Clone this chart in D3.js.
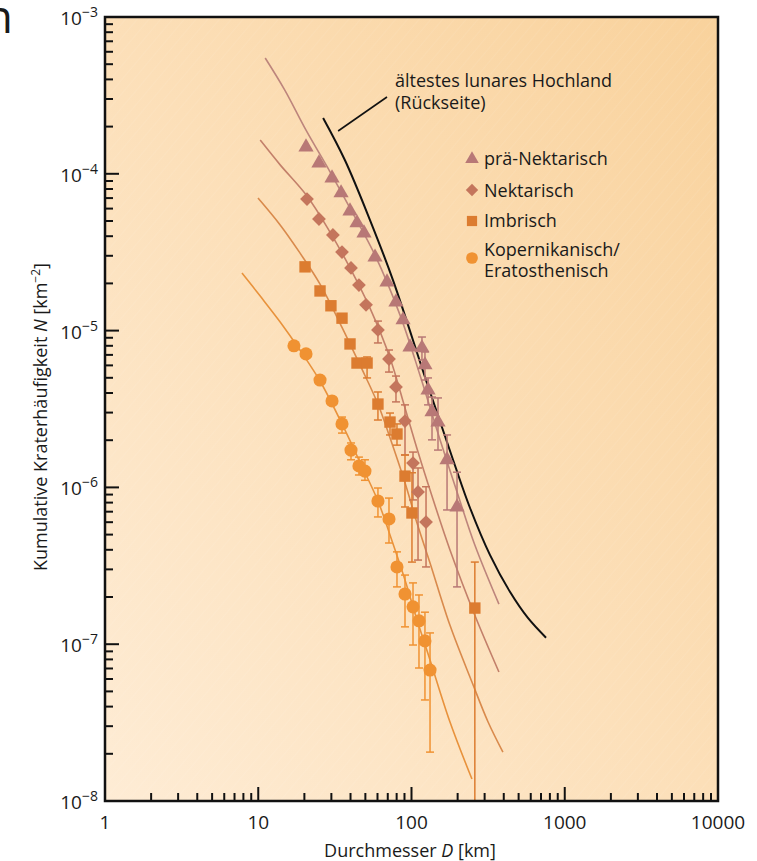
<!DOCTYPE html>
<html>
<head>
<meta charset="utf-8">
<script src="https://cdn.jsdelivr.net/npm/d3@7"></script>
<style>
  body { margin: 0; background: #fff; }
  svg { display: block; }
  text { font-family: "Open Sans", "DejaVu Sans", sans-serif; fill: #1a1a1a; }
</style>
</head>
<body>
<svg id="chart" width="757" height="861"></svg>
<script>
// prä-Nektarisch (triangles)
var D_preN  = [20.5, 24.9, 30.3, 34.7, 39.7, 44.1, 49.0, 57.8, 69.2, 79.2, 88.1, 97.8, 117, 122.4, 128.2, 136.1, 148.9, 170.6, 198.2];
var N_preN  = [1.48e-4, 1.17e-4, 9.4e-5, 7.55e-5, 5.79e-5, 4.86e-5, 4.19e-5, 2.94e-5, 2.04e-5, 1.52e-5, 1.17e-5, 7.86e-6, 7.75e-6, 6.04e-6, 4.18e-6, 3.03e-6, 2.61e-6, 1.50e-6, 7.5e-7];
var hi_preN = [null, null, null, null, null, null, null, null, null, null, null, null, 9.1e-6, 7.31e-6, 4.99e-6, 3.77e-6, 3.72e-6, 2.16e-6, 1.25e-6];
var lo_preN = [null, null, null, null, null, null, null, null, null, null, null, null, 6.49e-6, 4.84e-6, 3.36e-6, 2.01e-6, 1.73e-6, 7.18e-7, 2.32e-7];

// Nektarisch (diamonds)
var D_nek  = [20.8, 24.9, 30.7, 35.2, 40.3, 45.4, 50.5, 60.4, 71.3, 79.2, 90.7, 102.3, 110.3, 124.4];
var N_nek  = [6.9e-5, 5.15e-5, 4.07e-5, 3.17e-5, 2.51e-5, 1.95e-5, 1.46e-5, 1.01e-5, 6.59e-6, 4.37e-6, 2.65e-6, 1.43e-6, 9.35e-7, 6.01e-7];
var hi_nek = [null, null, null, null, null, null, null, 1.15e-5, 7.52e-6, 5.13e-6, 3.36e-6, 1.68e-6, 1.33e-6, 1.01e-6];
var lo_nek = [null, null, null, null, null, null, null, 8.34e-6, 5.44e-6, 3.51e-6, 1.61e-6, 8.32e-7, 3.44e-7, 3.11e-7];

// Imbrisch (squares)
var D_imb  = [20.2, 25.3, 29.8, 35.2, 39.7, 44.1, 51.3, 60.4, 72.4, 80.4, 90.7, 100.7, 259];
var N_imb  = [2.55e-5, 1.79e-5, 1.44e-5, 1.2e-5, 8.22e-6, 6.21e-6, 6.21e-6, 3.4e-6, 2.61e-6, 2.19e-6, 1.18e-6, 6.87e-7, 1.7e-7];
var hi_imb = [null, null, null, null, null, null, 6.79e-6, 4.06e-6, 2.98e-6, 2.54e-6, 1.61e-6, 1.24e-6, 3.34e-7];
var lo_imb = [null, null, null, null, null, null, 4.99e-6, 2.69e-6, 2.16e-6, 1.86e-6, 7.5e-7, 3.34e-7, 1e-8];

// Kopernikanisch / Eratosthenisch (circles)
var D_kop  = [17.1, 20.5, 25.3, 30.3, 35.2, 40.3, 45.4, 49.7, 60.4, 71.3, 80.4, 90.7, 102.3, 111.9, 122.4, 132.1];
var N_kop  = [8.0e-6, 7.1e-6, 4.84e-6, 3.56e-6, 2.54e-6, 1.73e-6, 1.37e-6, 1.27e-6, 8.19e-7, 6.29e-7, 3.11e-7, 2.09e-7, 1.73e-7, 1.41e-7, 1.05e-7, 6.84e-8];
var hi_kop = [null, null, null, null, 2.81e-6, 1.92e-6, 1.56e-6, 1.5e-6, 9.91e-7, 8.55e-7, 3.88e-7, 2.76e-7, 2.46e-7, 2.06e-7, 1.6e-7, 1.18e-7];
var lo_kop = [null, null, null, null, 2.22e-6, 1.5e-6, 1.2e-6, 1.11e-6, 6.48e-7, 4.42e-7, 2.32e-7, 1.29e-7, 9.88e-8, 7.05e-8, 4.41e-8, 2.05e-8];

// fitted curves
var fitD_preN = [11.1, 14.9, 20.5, 29.4, 39.7, 57.8, 84.1, 113.5, 153.5, 198.2, 259, 372];
var fitN_preN = [5.48e-4, 3.42e-4, 1.9e-4, 1.03e-4, 6.05e-5, 3.03e-5, 1.26e-5, 5.21e-6, 2.01e-6, 9.35e-7, 4.29e-7, 1.8e-7];
var fitD_nek = [10.3, 13.9, 20.8, 29.4, 39.7, 53.6, 72.4, 90.7, 110.3, 132.1, 178.3, 259, 372];
var fitN_nek = [1.64e-4, 1.14e-4, 7.22e-5, 4.25e-5, 2.51e-5, 1.39e-5, 6.69e-6, 3.21e-6, 1.68e-6, 9.62e-7, 3.99e-7, 1.53e-7, 6.65e-8];
var fitD_imb = [9.96, 13.9, 18.7, 25.3, 35.2, 46.1, 60.4, 72.4, 90.7, 108.6, 132.1, 178.3, 248, 316, 395];
var fitN_imb = [7.01e-5, 4.72e-5, 3.13e-5, 1.98e-5, 1.05e-5, 6.04e-6, 3.4e-6, 2.07e-6, 1.07e-6, 5.93e-7, 3.3e-7, 1.32e-7, 5.74e-8, 3.19e-8, 2.05e-8];
var fitD_kop = [7.83, 10.3, 13.9, 18.7, 25.3, 35.2, 46.1, 60.4, 72.4, 90.7, 108.6, 132.1, 178.3, 248];
var fitN_kop = [2.33e-5, 1.66e-5, 1.135e-5, 7.52e-6, 4.77e-6, 2.54e-6, 1.45e-6, 8.19e-7, 4.97e-7, 2.57e-7, 1.43e-7, 7.93e-8, 3.19e-8, 1.38e-8];

// ältestes lunares Hochland (Rückseite)
var D_high = [26.5, 36.8, 53.6, 75.7, 126.2, 186.6, 241, 325, 440, 575, 755];
var N_high = [2.27e-4, 1.22e-4, 5.07e-5, 2.1e-5, 4.63e-6, 1.5e-6, 7.39e-7, 3.71e-7, 2.15e-7, 1.47e-7, 1.1e-7];

var xLabels = ["1", "10", "100", "1000", "10000"];
var yExps = [-3, -4, -5, -6, -7, -8];

var svg = d3.select("#chart");
var x = d3.scaleLog().domain([1, 10000]).range([105, 718]);
var y = d3.scaleLog().domain([1e-8, 1e-3]).range([801, 17]);

// background
var defs = svg.append("defs");
var grad = defs.append("linearGradient").attr("id", "bg")
  .attr("x1", "0").attr("y1", "1").attr("x2", "1").attr("y2", "0");
grad.append("stop").attr("offset", "0%").attr("stop-color", "#feecd5");
grad.append("stop").attr("offset", "50%").attr("stop-color", "#fcdfb8");
grad.append("stop").attr("offset", "100%").attr("stop-color", "#f9d29c");

var pat = defs.append("pattern").attr("id", "stripes")
  .attr("patternUnits", "userSpaceOnUse").attr("width", 9).attr("height", 9)
  .attr("patternTransform", "rotate(40)");
pat.append("line").attr("x1", 0).attr("y1", 0).attr("x2", 0).attr("y2", 9)
  .attr("stroke", "#fff").attr("stroke-width", 1).attr("stroke-opacity", 0.13);

defs.append("clipPath").attr("id", "plotClip").append("rect")
  .attr("x", 105).attr("y", 17).attr("width", 613).attr("height", 784);

svg.append("rect").attr("x", 105).attr("y", 17).attr("width", 613).attr("height", 784).attr("fill", "url(#bg)");
svg.append("rect").attr("x", 105).attr("y", 17).attr("width", 613).attr("height", 784).attr("fill", "url(#stripes)");

// cut-off letter from neighbouring figure
svg.append("text").attr("x", 13).attr("y", 33).attr("text-anchor", "end")
  .style("font-size", "46px").text("n");

var plot = svg.append("g").attr("clip-path", "url(#plotClip)");

var line = d3.line()
  .x(function(d) { return x(d[0]); })
  .y(function(d) { return y(d[1]); })
  .curve(d3.curveCatmullRom);

function drawCurve(ds, ns, color, width) {
  var pts = ds.map(function(d, i) { return [d, ns[i]]; });
  plot.append("path").datum(pts)
    .attr("fill", "none").attr("stroke", color).attr("stroke-width", width)
    .attr("d", line);
}

drawCurve(fitD_kop, fitN_kop, "#e8923c", 1.6);
drawCurve(fitD_imb, fitN_imb, "#d98a4c", 1.6);
drawCurve(fitD_nek, fitN_nek, "#c3806a", 1.6);
drawCurve(fitD_preN, fitN_preN, "#bd857c", 1.6);
drawCurve(D_high, N_high, "#111", 2);

var series = [
  { d: D_preN, n: N_preN, lo: lo_preN, hi: hi_preN, color: "#b87876", sym: "tri" },
  { d: D_nek,  n: N_nek,  lo: lo_nek,  hi: hi_nek,  color: "#c4755c", sym: "dia" },
  { d: D_imb,  n: N_imb,  lo: lo_imb,  hi: hi_imb,  color: "#dc7c30", sym: "sq" },
  { d: D_kop,  n: N_kop,  lo: lo_kop,  hi: hi_kop,  color: "#f09232", sym: "circ" }
];

function symbolPath(kind, scale) {
  if (kind === "tri") return d3.symbol().type(d3.symbolTriangle).size(100 * scale)();
  if (kind === "dia") return d3.symbol().type(d3.symbolSquare).size(95 * scale)();
  if (kind === "sq") return d3.symbol().type(d3.symbolSquare).size(130 * scale)();
  return d3.symbol().type(d3.symbolCircle).size(135 * scale)();
}

// error bars
series.forEach(function(s) {
  var g = plot.append("g").attr("stroke", s.color).attr("stroke-width", 1.5);
  s.d.forEach(function(dv, i) {
    if (s.lo[i] === null) return;
    var cx = x(dv);
    g.append("line").attr("x1", cx).attr("x2", cx).attr("y1", y(s.hi[i])).attr("y2", y(s.lo[i]));
    g.append("line").attr("x1", cx - 4).attr("x2", cx + 4).attr("y1", y(s.hi[i])).attr("y2", y(s.hi[i]));
    if (s.lo[i] > 1e-8) {
      g.append("line").attr("x1", cx - 4).attr("x2", cx + 4).attr("y1", y(s.lo[i])).attr("y2", y(s.lo[i]));
    }
  });
});

// markers
series.forEach(function(s) {
  plot.append("g").selectAll("path")
    .data(s.d.map(function(dv, i) { return [dv, s.n[i]]; }))
    .join("path")
    .attr("d", symbolPath(s.sym, 1))
    .attr("fill", s.color)
    .attr("transform", function(p) {
      var t = "translate(" + x(p[0]) + "," + y(p[1]) + ")";
      return s.sym === "dia" ? t + " rotate(45)" : t;
    });
});

// ticks
var xt = x.ticks().filter(function(v) { return v > 1 && v < 10000; });
var yt = y.ticks().filter(function(v) { return v > 1e-8 * 1.01 && v < 1e-3 * 0.99; });
function isMajor(v) { var l = Math.log10(v); return Math.abs(l - Math.round(l)) < 1e-6; }

var ticks = svg.append("g").attr("stroke", "#111").attr("stroke-width", 2);
xt.forEach(function(v) {
  var len = isMajor(v) ? 14 : 8;
  ticks.append("line").attr("x1", x(v)).attr("x2", x(v)).attr("y1", 801).attr("y2", 801 - len);
});
yt.forEach(function(v) {
  var len = isMajor(v) ? 14 : 8;
  ticks.append("line").attr("x1", 105).attr("x2", 105 + len).attr("y1", y(v)).attr("y2", y(v));
});

// frame
svg.append("rect").attr("x", 105).attr("y", 17).attr("width", 613).attr("height", 784)
  .attr("fill", "none").attr("stroke", "#111").attr("stroke-width", 2.5);

// tick labels
xLabels.forEach(function(lab) {
  svg.append("text").attr("x", x(+lab)).attr("y", 829).attr("text-anchor", "middle")
    .style("font-size", "19px").text(lab);
});
yExps.forEach(function(e) {
  var t = svg.append("text").attr("x", 98).attr("y", y(Math.pow(10, e)) + 8)
    .attr("text-anchor", "end").style("font-size", "19px");
  t.append("tspan").text("10");
  t.append("tspan").attr("dy", -8).style("font-size", "14px").text("\u2212" + Math.abs(e));
});

// axis titles
var xt2 = svg.append("text").attr("x", 410).attr("y", 857).attr("text-anchor", "middle").style("font-size", "18px");
xt2.append("tspan").text("Durchmesser ");
xt2.append("tspan").style("font-style", "italic").text("D");
xt2.append("tspan").text("  [km]");

var yt2 = svg.append("text").attr("transform", "translate(47,417) rotate(-90)")
  .attr("text-anchor", "middle").style("font-size", "18px");
yt2.append("tspan").text("Kumulative Kraterhäufigkeit ");
yt2.append("tspan").style("font-style", "italic").text("N");
yt2.append("tspan").text(" [km");
yt2.append("tspan").attr("dy", -7).style("font-size", "12px").text("\u22122");
yt2.append("tspan").attr("dy", 7).text("]");

// annotation for the oldest highland curve
var leadD = [33.2, 69.2];
var leadN = [1.875e-4, 3.09e-4];
svg.append("line").attr("x1", x(leadD[0])).attr("y1", y(leadN[0]))
  .attr("x2", x(leadD[1])).attr("y2", y(leadN[1]))
  .attr("stroke", "#111").attr("stroke-width", 1.6);
svg.append("text").attr("x", 395).attr("y", 87).style("font-size", "18px").text("ältestes lunares Hochland");
svg.append("text").attr("x", 395).attr("y", 109).style("font-size", "18px").text("(Rückseite)");

// legend
var legendNames = ["prä-Nektarisch", "Nektarisch", "Imbrisch", "Kopernikanisch/"];
var legendY = [159, 190, 221, 258];
var leg = svg.append("g");
series.forEach(function(s, i) {
  var t = "translate(472," + legendY[i] + ")" + (s.sym === "dia" ? " rotate(45)" : "");
  leg.append("path").attr("d", symbolPath(s.sym, 0.8)).attr("fill", s.color).attr("transform", t);
});
var textY = [165, 197, 227, 256];
legendNames.forEach(function(n, i) {
  leg.append("text").attr("x", 484).attr("y", textY[i]).style("font-size", "18px").text(n);
});
leg.append("text").attr("x", 484).attr("y", 277).style("font-size", "18px").text("Eratosthenisch");
</script>
</body>
</html>
